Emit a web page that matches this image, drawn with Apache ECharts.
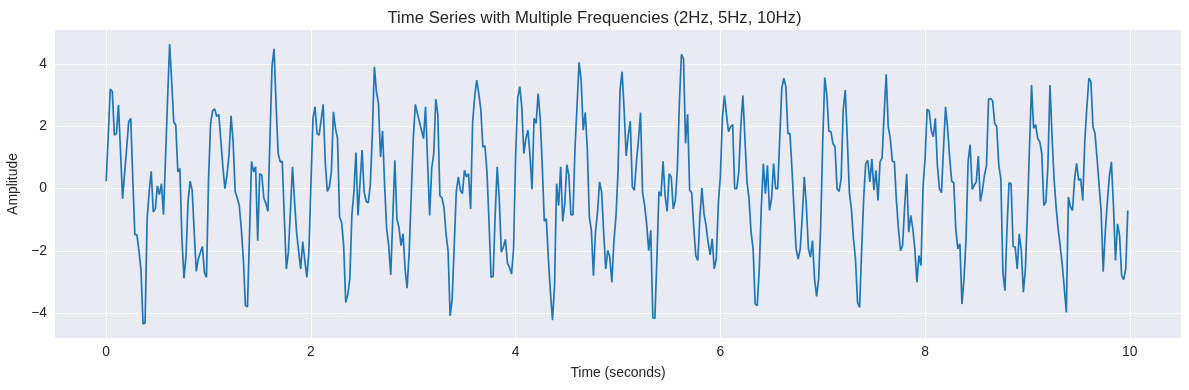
<!DOCTYPE html>
<html>
<head>
<meta charset="utf-8">
<script src="https://cdn.jsdelivr.net/npm/echarts@6/dist/echarts.min.js"></script>
<style>
html,body{margin:0;padding:0;background:#fff;}
#chart{width:1189px;height:390px;}
</style>
</head>
<body>
<div id="chart"></div>
<script>
// Sampling: one sample every 0.02 s starting at t = 0
const sampleStart = 0;
const sampleStep = 0.02;

// Amplitude readings, 10 samples per row (row label = start time)
const amplitude = [
  /* 0.00 */ 0.24, 1.7, 3.20, 3.12, 1.72, 1.77, 2.69, 1.2, -0.32, 0.5,
  /* 0.20 */ 1.3, 2.15, 2.26, 0.3, -1.48, -1.48, -2.0, -2.6, -4.35, -4.32,
  /* 0.40 */ -0.97, -0.1, 0.56, -0.75, -0.65, 0.09, -0.19, 0.16, -0.84, 1.0,
  /* 0.60 */ 2.9, 4.65, 3.44, 2.15, 2.04, 0.54, 0.65, -1.61, -2.88, -2.15,
  /* 0.80 */ -0.4, 0.24, -0.05, -1.4, -2.66, -2.26, -2.05, -1.86, -2.69, -2.85,
  /* 1.00 */ 0.32, 2.10, 2.51, 2.56, 2.32, 2.39, 1.56, 0.7, 0.0, 0.43,
  /* 1.20 */ 1.08, 2.34, 1.51, -0.09, -0.30, -0.54, -1.29, -2.26, -3.76, -3.80,
  /* 1.40 */ -1.5, 0.88, 0.54, 0.70, -1.67, 0.48, 0.43, -0.30, -0.48, -0.73,
  /* 1.60 */ 1.61, 3.92, 4.50, 2.69, 1.13, 0.86, 0.88, -0.9, -2.58, -2.04,
  /* 1.80 */ -0.7, 0.70, -0.4, -1.40, -2.0, -2.58, -1.70, -2.3, -2.85, -2.04,
  /* 2.00 */ 0.1, 2.26, 2.63, 1.77, 1.72, 2.2, 2.71, 0.86, -0.09, 0.05,
  /* 2.20 */ 0.54, 2.47, 1.94, 1.61, -0.91, -1.08, -1.83, -3.66, -3.42, -2.90,
  /* 2.40 */ -0.86, -0.11, 1.16, -0.86, 0.2, 1.24, -0.11, -0.41, -0.45, 0.11,
  /* 2.60 */ 1.72, 3.92, 3.12, 2.74, 1.02, 1.85, 0.11, -1.29, -1.83, -2.77,
  /* 2.80 */ -0.9, 0.91, -0.97, -1.24, -1.83, -1.45, -2.58, -3.20, -2.04, -0.22,
  /* 3.00 */ 1.61, 2.71, 2.42, 2.15, 1.88, 1.61, 2.63, 0.86, -0.86, 0.65,
  /* 3.20 */ 1.13, 2.88, 2.37, -0.22, -0.3, -0.6, -1.45, -2.0, -4.09, -3.55,
  /* 3.40 */ -1.83, -0.11, 0.38, -0.05, -0.16, 0.59, 0.38, 0.48, -0.65, 2.15,
  /* 3.60 */ 2.96, 3.49, 3.06, 2.53, 1.34, 1.38, 0.54, -1.08, -2.85, -2.82,
  /* 3.80 */ -0.86, 0.70, -0.32, -2.04, -1.88, -1.63, -2.39, -2.53, -2.74, -1.94,
  /* 4.00 */ 1.08, 2.90, 3.28, 2.63, 1.13, 1.61, 1.88, 1.08, -0.02, 2.26,
  /* 4.20 */ 2.10, 3.06, 2.26, 0.75, -1.05, -0.97, -2.26, -3.33, -4.23, -3.12,
  /* 4.40 */ 0.16, -0.54, 0.70, -1.05, -0.48, 0.77, 0.43, -0.84, -0.84, 1.29,
  /* 4.60 */ 2.69, 4.06, 3.49, 1.88, 2.45, 1.29, -0.91, -1.34, -2.80, -1.40,
  /* 4.80 */ -0.75, 0.22, -0.11, -1.40, -2.58, -1.99, -2.20, -3.01, -1.7, -0.9,
  /* 5.00 */ 0.54, 3.17, 3.76, 2.53, 1.05, 1.72, 2.17, 0.05, -0.05, 0.86,
  /* 5.20 */ 1.56, 2.45, -0.13, -0.54, -1.13, -1.99, -1.34, -4.14, -4.17, -2.26,
  /* 5.40 */ -0.09, -0.24, 0.88, -0.22, -0.73, 0.48, 0.38, -0.65, -0.38, 0.65,
  /* 5.60 */ 2.80, 4.32, 4.17, 1.45, 2.39, -0.05, -0.13, -1.24, -2.15, -2.31,
  /* 5.80 */ -0.9, 0.02, -0.81, -1.18, -1.72, -2.13, -1.61, -2.58, -2.26, -0.5,
  /* 6.00 */ 0.4, 2.3, 2.99, 2.37, 1.83, 1.99, 2.06, 0.0, 0.0, 0.54,
  /* 6.20 */ 2.04, 2.99, 1.61, 0.22, -0.32, -1.40, -1.94, -3.71, -3.76, -2.6,
  /* 6.40 */ -0.6, 0.81, -0.16, 0.75, -0.70, -0.32, 0.81, 0.0, 0.0, 1.6,
  /* 6.60 */ 3.23, 3.55, 3.28, 1.77, 1.77, 0.6, -0.7, -1.94, -2.26, -1.94,
  /* 6.80 */ -0.9, 0.38, -0.54, -1.94, -2.20, -1.67, -2.90, -3.46, -2.90, -1.2,
  /* 7.00 */ 1.5, 3.57, 3.01, 1.85, 1.83, 1.45, 1.34, 0.0, -0.09, 0.32,
  /* 7.20 */ 2.53, 3.17, 1.61, -0.11, -0.65, -1.61, -2.26, -3.66, -3.82, -2.0,
  /* 7.40 */ -0.32, 0.81, 0.91, 0.22, 0.95, -0.05, 0.59, -0.38, 0.86, 0.99,
  /* 7.60 */ 2.4, 3.68, 1.99, 1.61, 0.88, 0.86, -0.4, -1.3, -1.99, -1.83,
  /* 7.80 */ -0.6, 0.48, -1.40, -0.86, -1.29, -1.94, -3.01, -2.15, -2.47, 0.05,
  /* 8.00 */ 0.97, 2.56, 2.49, 1.88, 1.67, 2.26, 0.75, 0.0, -0.13, 1.3,
  /* 8.20 */ 2.63, 1.94, 1.0, 0.24, 0.19, -1.3, -1.94, -1.77, -3.71, -2.9,
  /* 8.40 */ -1.61, 0.86, 1.42, -0.02, 0.11, 0.22, 1.05, -0.41, -0.05, 0.43,
  /* 8.60 */ 0.75, 2.88, 2.90, 2.82, 2.10, 1.99, 0.75, 0.32, -2.69, -3.28,
  /* 8.80 */ -1.29, 0.19, 0.16, -1.86, -1.88, -2.58, -1.45, -1.99, -3.33, -2.58,
  /* 9.00 */ -0.75, 1.34, 3.33, 1.94, 2.06, 1.61, 1.51, 1.13, -0.54, -0.43,
  /* 9.20 */ 0.75, 3.33, 1.7, 0.3, -0.6, -1.3, -1.85, -2.45, -3.2, -3.98,
  /* 9.40 */ -0.27, -0.59, -0.70, 0.3, 0.81, 0.27, 0.32, -0.38, 1.51, 2.6,
  /* 9.60 */ 3.55, 3.44, 1.99, 1.77, 0.97, 0.11, -0.75, -2.67, -1.40, -0.43,
  /* 9.80 */ 0.38, 0.86, -0.54, -2.31, -1.13, -1.51, -2.80, -2.92, -2.58, -0.70
];

// Sample times (seconds) for each reading
const time = amplitude.map((_, i) => +(sampleStart + i * sampleStep).toFixed(2));

// Tick labels
const xTicks = [0, 2, 4, 6, 8, 10];
const yTicks = [-4, -2, 0, 2, 4];

const chartTitle = 'Time Series with Multiple Frequencies (2Hz, 5Hz, 10Hz)';
const xName = 'Time (seconds)';
const yName = 'Amplitude';

const FONT = '"Liberation Sans", Arial, "DejaVu Sans", sans-serif';
const TXT = '#262626';
const fmt = v => (v < 0 ? '\u2212' + Math.abs(v) : String(v));

const seriesData = time.map((t, i) => [t, amplitude[i]]);

const chart = echarts.init(document.getElementById('chart'), null, {renderer: 'canvas'});
chart.setOption({
  animation: false,
  backgroundColor: '#ffffff',
  title: {
    text: chartTitle,
    left: 'center',
    top: 5,
    textStyle: {fontFamily: FONT, fontSize: 16.7, fontWeight: 'normal', color: TXT}
  },
  grid: {
    left: 55, right: 8, top: 30, bottom: 52,
    containLabel: false,
    outerBoundsMode: 'none',
    show: true, backgroundColor: '#EAEAF2', borderWidth: 0
  },
  xAxis: {
    type: 'value',
    min: -0.5, max: 10.5,
    name: xName,
    nameLocation: 'middle',
    nameGap: 28,
    nameTextStyle: {fontFamily: FONT, fontSize: 13.9, color: TXT},
    axisLine: {show: false},
    axisTick: {show: false, customValues: xTicks},
    axisLabel: {customValues: xTicks, formatter: fmt, fontFamily: FONT, fontSize: 13.9, color: TXT, margin: 7},
    splitLine: {show: true, lineStyle: {color: '#ffffff', width: 1}}
  },
  yAxis: {
    type: 'value',
    min: -4.8, max: 5.1,
    name: yName,
    nameLocation: 'middle',
    nameGap: 32,
    nameRotate: 90,
    nameTextStyle: {fontFamily: FONT, fontSize: 13.9, color: TXT},
    axisLine: {show: false},
    axisTick: {show: false, customValues: yTicks},
    axisLabel: {customValues: yTicks, formatter: fmt, fontFamily: FONT, fontSize: 13.9, color: TXT, margin: 8},
    splitLine: {show: true, lineStyle: {color: '#ffffff', width: 1}}
  },
  series: [{
    type: 'line',
    data: seriesData,
    showSymbol: false,
    symbol: 'none',
    smooth: false,
    lineStyle: {color: '#1f77b4', width: 1.7},
    z: 3
  }]
});
</script>
</body>
</html>
